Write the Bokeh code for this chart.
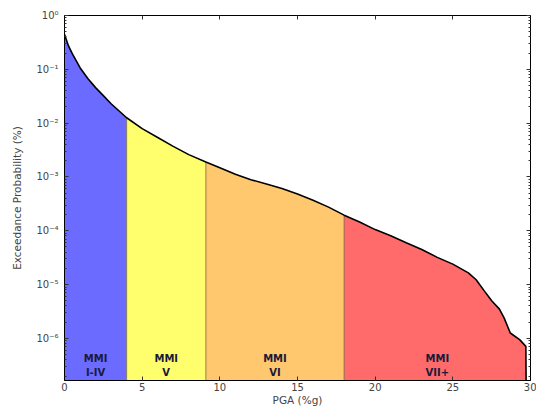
import numpy as np
from bokeh.plotting import figure
from bokeh.models import LinearAxis, LogAxis, FixedTicker, Range1d, ColumnDataSource
from bokeh.core.properties import value
from bokeh.embed import file_html
from bokeh.resources import INLINE

# ---- data ----
pga = [0, 0.25, 0.5, 1, 1.5, 2, 2.5, 3, 3.5, 4, 5, 6, 7, 8, 9.1, 10, 11, 12, 13, 14,
       15, 16, 17, 18, 19, 20, 21, 22, 23, 24, 25, 26, 26.5, 27, 27.5, 28, 28.3, 28.7,
       29.3, 29.7, 29.75]
prob = [0.447, 0.275, 0.195, 0.107, 0.0676, 0.0457, 0.0324, 0.0229, 0.0170, 0.0126,
        0.0079, 0.0054, 0.0037, 0.0026, 0.0019, 0.00148, 0.00112, 0.00089, 0.00074, 0.00061,
        0.00048, 0.00037, 0.000275, 0.000195, 0.000145, 0.000105, 8.1e-5, 6.0e-5, 4.5e-5, 3.2e-5,
        2.4e-5, 1.65e-5, 1.23e-5, 7.8e-6, 5.0e-6, 3.5e-6, 2.4e-6, 1.26e-6,
        9.5e-7, 7.1e-7, 1e-8]
band_edges = [0, 4, 9.1, 18, 30]
band_names = ["I-IV", "V", "VI", "VII+"]
band_colors = ["#6b6bff", "#ffff6e", "#ffc76e", "#ff6b6b"]
x_ticks = [0, 5, 10, 15, 20, 25, 30]
y_exponents = [0, -1, -2, -3, -4, -5, -6]
y_tick_labels = ["10⁰", "10⁻¹", "10⁻²", "10⁻³", "10⁻⁴", "10⁻⁵", "10⁻⁶"]

FONT = "DejaVu Sans"
Y_MIN, Y_MAX = 1.65e-7, 1.0

p = figure(width=536, height=414, output_backend="svg", toolbar_location=None,
           y_axis_type="log", x_range=Range1d(0, 30), y_range=Range1d(Y_MIN, Y_MAX),
           min_border_left=64, min_border_right=6, min_border_top=15, min_border_bottom=34)
p.grid.visible = False
p.outline_line_color = "black"
p.outline_line_width = 1
p.background_fill_color = "white"
p.border_fill_color = "white"

bottom_ax = p.below[0]
left_ax = p.left[0]

x = np.array(pga, dtype=float)
y = np.array(prob, dtype=float)

for i in range(4):
    lo, hi = band_edges[i], band_edges[i + 1]
    m = (x >= lo) & (x <= hi)
    src = ColumnDataSource(dict(x=x[m], top=y[m], bottom=np.full(m.sum(), 1e-9)))
    p.varea(x="x", y1="bottom", y2="top", source=src, fill_color=band_colors[i], fill_alpha=1.0)

# borders between bands
bx = []
by = []
for b in band_edges[1:4]:
    idx = int(np.argmin(np.abs(x - b)))
    bx.append(b)
    by.append(y[idx])
p.segment(x0=bx, y0=[1e-9] * 3, x1=bx, y1=by, line_color="#6a5a30", line_alpha=0.7, line_width=1)

p.line(x, y, line_color="black", line_width=1.6)

# band labels
cx = [(band_edges[i] + band_edges[i + 1]) / 2 for i in range(4)]
p.text(x=cx, y=[10 ** -6.38] * 4, text=["MMI"] * 4, text_align="center", text_baseline="middle",
       text_font=value(FONT), text_font_size="10px", text_font_style="bold", text_color="#1a1a3a")
p.text(x=cx, y=[10 ** -6.64] * 4, text=band_names, text_align="center", text_baseline="middle",
       text_font=value(FONT), text_font_size="10px", text_font_style="bold", text_color="#1a1a3a")

# axes
major_y = [10.0 ** e for e in y_exponents]
minor_y = [k * 10.0 ** e for e in range(-7, 0) for k in range(2, 10)]
yt = FixedTicker(ticks=major_y, minor_ticks=minor_y)
xt = FixedTicker(ticks=x_ticks)

bottom_ax.ticker = xt
bottom_ax.axis_label = "PGA (%g)"
left_ax.ticker = yt
left_ax.axis_label = "Exceedance Probability (%)"
left_ax.major_label_overrides = {v: s for v, s in zip(major_y, y_tick_labels)}

top = LinearAxis(ticker=xt, major_label_text_font_size="1px", major_label_text_alpha=0,
                 major_label_standoff=0)
right = LogAxis(ticker=yt, major_label_text_font_size="1px", major_label_text_alpha=0,
                major_label_standoff=0)
p.add_layout(top, "above")
p.add_layout(right, "right")

for ax in [bottom_ax, left_ax, top, right]:
    ax.axis_line_color = "black"
    ax.major_tick_in = 4
    ax.major_tick_out = 0
    ax.minor_tick_in = 2
    ax.minor_tick_out = 0
    ax.major_tick_line_color = "#333333"
    ax.minor_tick_line_color = "#333333"
    ax.major_label_text_font = FONT
    ax.major_label_text_color = "#444444"
    ax.axis_label_text_font = FONT
    ax.axis_label_text_font_style = "normal"
    ax.axis_label_text_color = "#444444"

for ax in [bottom_ax, top]:
    ax.minor_tick_line_color = None

bottom_ax.major_label_text_font_size = "10px"
bottom_ax.major_label_standoff = 2
bottom_ax.axis_label_text_font_size = "10.5px"
bottom_ax.axis_label_standoff = 0
left_ax.major_label_text_font_size = "10px"
left_ax.major_label_standoff = 6
left_ax.axis_label_text_font_size = "10.5px"
left_ax.axis_label_standoff = 10

open("out.html", "w").write(file_html(p, INLINE))
